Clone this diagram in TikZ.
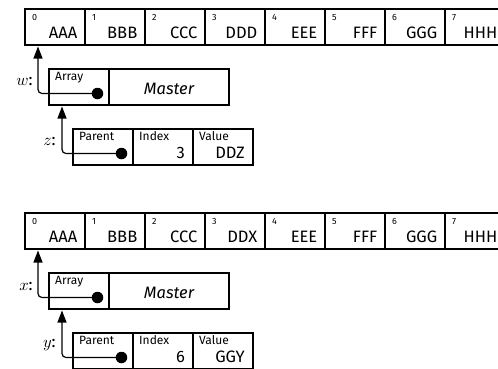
\documentclass[tikz,border=0pt]{standalone}
\usepackage[no-math]{fontspec}
\setmainfont{Fira Sans}
\usetikzlibrary{arrows.meta}

\begin{document}
\begin{tikzpicture}[x=1pt,y=-1pt,
  cell/.style={draw,line width=1.2pt,minimum width=60pt,minimum height=36pt,
               inner sep=0pt,outer sep=0pt,anchor=north west},
  widecell/.style={cell,minimum width=120pt},
  idx/.style={font=\fontsize{9}{11}\selectfont,anchor=base west,inner sep=0pt},
  val/.style={font=\fontsize{16.5}{19}\selectfont,anchor=base east,inner sep=0pt},
  tag/.style={font=\fontsize{12}{14}\selectfont,anchor=base west,inner sep=0pt},
  var/.style={font=\fontsize{10}{12}\selectfont,scale=1.65,anchor=base east,inner sep=0pt},
  dot/.style={circle,fill,minimum size=11.5pt,inner sep=0pt},
  ptr/.style={line width=1.2pt,rounded corners=4pt,
              -{Triangle[length=12pt,width=9pt]},shorten >=1.5pt},
]
\useasboundingbox (0,0) rectangle (498,368);
\clip (0,0) rectangle (498,368);

% ---------- first state ----------
\foreach \t [count=\j from 0] in {AAA,BBB,CCC,DDD,EEE,FFF,GGG,HHH} {
  \node[cell] (ta\j) at (25+60*\j,9) {};
  \node[idx] (ta\j-i) at ([xshift=7pt,yshift=-11pt]ta\j.north west) {\j};
  \node[val] (ta\j-v) at ([xshift=-7.5pt,yshift=7pt]ta\j.south east) {\t};
}

% w: array handle
\node[cell] (warr) at (49,69) {};
\node[widecell] (wmas) at (109,69) {};
\node[tag] (warr-t) at ([xshift=6pt,yshift=-11.5pt]warr.north west) {Array};
\node[font=\fontsize{16.5}{19}\selectfont\itshape] (wmas-t) at ([yshift=-1.5pt]wmas.center) {Master};
\node[var] (wlab) at ([xshift=-16pt,yshift=2pt]warr.west) {$w$:};

% z: element reference
\node[cell] (zpar) at (73,129) {};
\node[cell] (zidx) at (133,129) {};
\node[cell] (zval) at (193,129) {};
\node[tag] (zpar-t) at ([xshift=6pt,yshift=-11.5pt]zpar.north west) {Parent};
\node[tag] (zidx-t) at ([xshift=6pt,yshift=-11.5pt]zidx.north west) {Index};
\node[tag] (zval-t) at ([xshift=6pt,yshift=-11.5pt]zval.north west) {Value};
\node[val] (zidx-v) at ([xshift=-8pt,yshift=7pt]zidx.south east) {3};
\node[val] (zval-v) at ([xshift=-8pt,yshift=7pt]zval.south east) {DDZ};
\node[var] (zlab) at ([xshift=-17pt,yshift=2pt]zpar.west) {$z$:};

\draw[ptr] ([xshift=-11.5pt,yshift=11.5pt]warr.south east) -| ([xshift=13pt]ta0.south west);
\draw[ptr] ([xshift=-11.5pt,yshift=11.5pt]zpar.south east) -| ([xshift=13pt]warr.south west);
\node[dot] (wdot) at ([xshift=-11.5pt,yshift=11.5pt]warr.south east) {};
\node[dot] (zdot) at ([xshift=-11.5pt,yshift=11.5pt]zpar.south east) {};

% ---------- second state ----------
\foreach \t [count=\j from 0] in {AAA,BBB,CCC,DDX,EEE,FFF,GGG,HHH} {
  \node[cell] (ba\j) at (25+60*\j,213) {};
  \node[idx] (ba\j-i) at ([xshift=7pt,yshift=-11pt]ba\j.north west) {\j};
  \node[val] (ba\j-v) at ([xshift=-7.5pt,yshift=7pt]ba\j.south east) {\t};
}

% x: array handle
\node[cell] (xarr) at (49,273) {};
\node[widecell] (xmas) at (109,273) {};
\node[tag] (xarr-t) at ([xshift=6pt,yshift=-11.5pt]xarr.north west) {Array};
\node[font=\fontsize{16.5}{19}\selectfont\itshape] (xmas-t) at ([yshift=-1.5pt]xmas.center) {Master};
\node[var] (xlab) at ([xshift=-16pt,yshift=1pt]xarr.west) {$x$:};

% y: element reference
\node[cell] (ypar) at (73,333) {};
\node[cell] (yidx) at (133,333) {};
\node[cell] (yval) at (193,333) {};
\node[tag] (ypar-t) at ([xshift=6pt,yshift=-11.5pt]ypar.north west) {Parent};
\node[tag] (yidx-t) at ([xshift=6pt,yshift=-11.5pt]yidx.north west) {Index};
\node[tag] (yval-t) at ([xshift=6pt,yshift=-11.5pt]yval.north west) {Value};
\node[val] (yidx-v) at ([xshift=-8pt,yshift=7pt]yidx.south east) {6};
\node[val] (yval-v) at ([xshift=-8pt,yshift=7pt]yval.south east) {GGY};
\node[var] (ylab) at ([xshift=-17pt,yshift=4pt]ypar.west) {$y$:};

\draw[ptr] ([xshift=-11.5pt,yshift=11.5pt]xarr.south east) -| ([xshift=13pt]ba0.south west);
\draw[ptr] ([xshift=-11.5pt,yshift=11.5pt]ypar.south east) -| ([xshift=13pt]xarr.south west);
\node[dot] (xdot) at ([xshift=-11.5pt,yshift=11.5pt]xarr.south east) {};
\node[dot] (ydot) at ([xshift=-11.5pt,yshift=11.5pt]ypar.south east) {};
\end{tikzpicture}
\end{document}
